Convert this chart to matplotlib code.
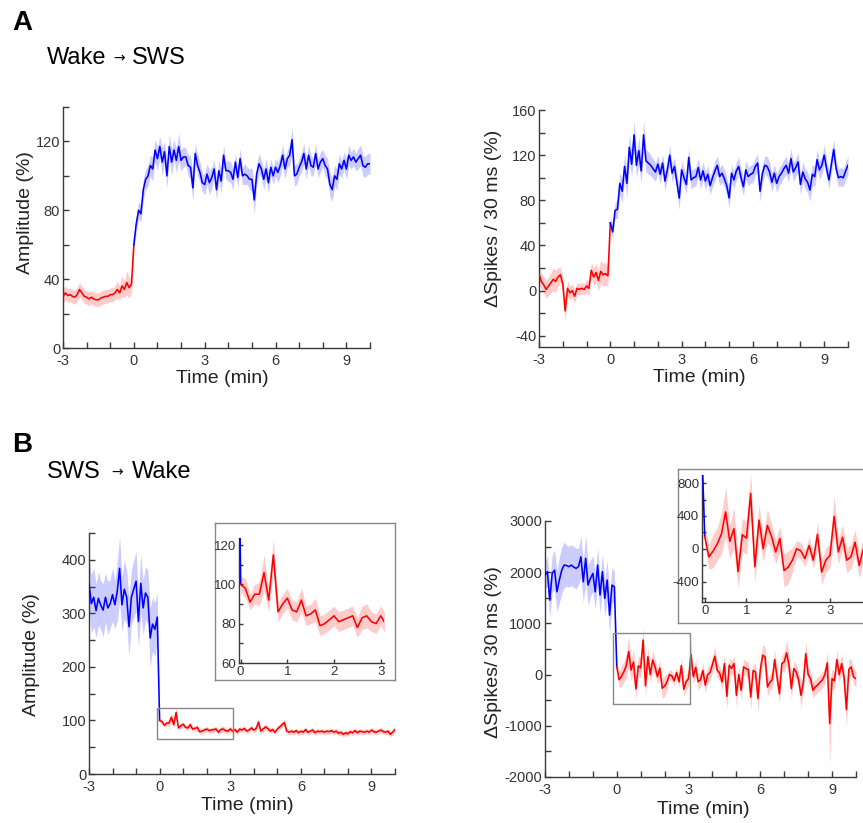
import matplotlib
matplotlib.use("Agg")
import matplotlib.pyplot as plt
import numpy as np
from matplotlib.patches import Rectangle

plt.rcParams["font.family"] = ["Liberation Sans", "DejaVu Sans"]
plt.rcParams["axes.unicode_minus"] = False

W, H = 863, 823

# time bins (min): pre-transition and post-transition, sharing t = 0
T_PRE = np.linspace(-3, 0, 31)
T_POST = np.linspace(0, 10, 101)

# ---- A: Wake -> SWS, amplitude (%) ----
AMP_A_WAKE = [30, 32, 30.5, 31, 30, 29.5, 31, 34, 32, 30,
              29.5, 28.5, 29.5, 28.5, 28, 28, 29, 29.5, 30, 30,
              31, 31, 32, 34, 32, 36, 34, 38, 35, 37,
              60]
SEM_AMP_A_WAKE = [4, 4, 4, 4, 4, 4, 4, 4, 4, 4,
                  4, 4, 4, 4, 4, 4, 4, 4, 4, 4,
                  4, 4, 4, 5, 4, 6, 5, 7, 6, 5,
                  6]
AMP_A_SWS = [60, 72, 80, 78, 92, 98, 100, 106, 104, 115,
             110, 117, 108, 114, 100, 117, 108, 115, 109, 117,
             109, 111, 111, 106, 105, 93, 113, 106, 102, 96,
             95, 101, 96, 99, 104, 92, 103, 97, 112, 103,
             103, 102, 98, 108, 99, 110, 100, 101, 100, 98,
             98, 86, 101, 107, 104, 98, 104, 96, 105, 100,
             105, 102, 106, 112, 104, 110, 112, 121, 100, 101,
             105, 108, 113, 104, 112, 106, 105, 113, 104, 108,
             110, 106, 104, 95, 92, 100, 98, 107, 104, 109,
             104, 112, 109, 111, 108, 110, 112, 106, 105, 107,
             107]
SEM_AMP_A_SWS = [3, 4, 5, 5, 6, 6, 6, 6, 7, 6,
                 7, 6, 8, 6, 7, 7, 8, 6, 7, 8,
                 6, 6, 5, 6, 7, 8, 6, 6, 6, 5,
                 6, 6, 7, 6, 5, 6, 6, 7, 6, 5,
                 6, 6, 6, 5, 6, 6, 5, 6, 5, 6,
                 7, 8, 6, 6, 5, 6, 6, 6, 5, 5,
                 5, 6, 6, 6, 6, 5, 6, 7, 6, 6,
                 5, 6, 6, 6, 6, 6, 5, 6, 5, 6,
                 5, 6, 6, 7, 7, 6, 6, 6, 5, 5,
                 6, 6, 5, 5, 5, 6, 6, 6, 6, 6,
                 6]

# ---- A: Wake -> SWS, delta spikes / 30 ms (%) ----
SPK_A_WAKE = [15, 8, 5, 1, 4, 7, 10, 8, 12, 14,
              6, -18, 2, -2, 0, -5, 2, 1, 2, 1,
              4, 2, 18, 12, 16, 9, 17, 14, 15, 13,
              60]
SEM_SPK_A_WAKE = [8, 7, 7, 8, 8, 9, 10, 10, 8, 7,
                  7, 10, 7, 6, 6, 6, 5, 5, 5, 5,
                  6, 6, 7, 8, 8, 9, 10, 10, 10, 9,
                  8]
SPK_A_SWS = [60, 52, 71, 72, 95, 88, 110, 95, 127, 112,
             138, 111, 124, 106, 138, 115, 113, 111, 108, 105,
             112, 103, 113, 97, 107, 120, 104, 110, 96, 82,
             107, 100, 94, 118, 98, 100, 101, 109, 98, 106,
             97, 103, 93, 100, 106, 111, 101, 104, 99, 93,
             82, 104, 98, 106, 110, 100, 92, 107, 101, 103,
             104, 110, 113, 88, 104, 111, 110, 105, 96, 104,
             95, 101, 104, 108, 111, 104, 117, 105, 109, 114,
             94, 105, 99, 96, 89, 103, 101, 116, 107, 111,
             120, 108, 98, 112, 125, 108, 100, 101, 100, 106,
             111]
SEM_SPK_A_SWS = [5, 6, 7, 8, 10, 10, 11, 12, 12, 11,
                 13, 11, 12, 11, 13, 10, 10, 9, 9, 8,
                 8, 8, 8, 9, 8, 9, 8, 8, 9, 10,
                 8, 8, 8, 9, 8, 8, 8, 8, 8, 8,
                 8, 8, 8, 8, 9, 8, 8, 8, 8, 8,
                 9, 8, 8, 8, 8, 8, 8, 8, 8, 8,
                 8, 8, 8, 9, 8, 8, 9, 9, 8, 8,
                 8, 8, 8, 8, 8, 8, 9, 8, 8, 8,
                 9, 9, 9, 9, 10, 9, 9, 9, 8, 8,
                 9, 8, 8, 8, 9, 8, 8, 8, 8, 8,
                 8]

# ---- B: SWS -> Wake, amplitude (%) ----
AMP_B_SWS = [355, 318, 330, 305, 328, 315, 306, 330, 310, 318,
             335, 316, 341, 384, 316, 345, 330, 275, 330, 345,
             360, 285, 356, 310, 338, 330, 254, 280, 270, 293,
             100]
SEM_AMP_B_SWS = [45, 55, 55, 50, 50, 45, 50, 45, 50, 45,
                 50, 45, 55, 60, 50, 55, 50, 55, 50, 55,
                 55, 50, 55, 50, 50, 50, 55, 50, 50, 45,
                 10]
AMP_B_WAKE = [100, 98, 91, 95, 95, 106, 92, 115, 86, 90,
              93, 87, 86, 92, 84, 85, 87, 79, 80, 82,
              84, 81, 82, 83, 84, 78, 83, 84, 81, 80,
              84, 80, 83, 78, 84, 82, 85, 80, 82, 86,
              82, 85, 97, 80, 84, 88, 85, 80, 83, 78,
              84, 88, 92, 96, 80, 78, 80, 78, 81, 77,
              80, 78, 83, 78, 80, 82, 77, 80, 79, 80,
              78, 80, 79, 81, 78, 80, 76, 78, 74, 77,
              75, 79, 77, 81, 77, 80, 79, 78, 80, 78,
              82, 79, 78, 80, 82, 79, 78, 80, 74, 78,
              83]
SEM_AMP_B_WAKE = [4, 5, 4, 5, 6, 9, 6, 8, 5, 5,
                  5, 5, 5, 6, 5, 5, 6, 5, 5, 5,
                  5, 5, 5, 5, 5, 5, 6, 6, 5, 5,
                  5, 5, 5, 5, 5, 5, 5, 5, 5, 5,
                  5, 5, 7, 5, 5, 6, 5, 5, 5, 5,
                  5, 5, 6, 7, 5, 5, 5, 5, 5, 5,
                  5, 5, 5, 5, 5, 5, 5, 5, 5, 5,
                  5, 5, 5, 5, 5, 5, 5, 5, 5, 5,
                  5, 5, 5, 5, 5, 5, 5, 5, 5, 5,
                  5, 5, 5, 5, 5, 5, 5, 5, 5, 5,
                  5]

# ---- B: SWS -> Wake, delta spikes / 30 ms (%) ----
SPK_B_SWS = [1944, 2009, 1455, 1976, 2040, 1618, 1846, 2040, 2140, 2130,
             2107, 2140, 2100, 2074, 2110, 2300, 1813, 2270, 1750, 1880,
             1976, 1618, 2140, 1553, 2009, 1487, 1846, 1161, 1748, 1716,
             150]
SEM_SPK_B_SWS = [250, 300, 350, 350, 400, 400, 450, 450, 450, 400,
                 400, 400, 400, 400, 350, 400, 400, 450, 400, 350,
                 350, 350, 350, 350, 350, 350, 400, 400, 350, 300,
                 100]
SPK_B_WAKE = [150, -100, -30, 60, 180, 450, 90, 245, -280, 170,
              130, 675, -220, 350, 0, 285, 150, -40, 125, -265,
              -225, -140, 0, -25, -120, 40, -140, 175, -285, -140,
              -80, 395, -40, 140, -140, -100, 80, -205, 0, 40,
              200, 358, 85, 30, -143, 215, -424, 183, 120, 215,
              -404, 0, -306, 150, 117, 100, -437, 80, 50, -469,
              100, 378, 346, -241, -150, -100, 293, -50, -372, 215,
              250, 424, 183, -274, 117, 50, -100, -404, -150, 411,
              0, -78, -306, -241, -200, -150, -100, 0, 228, -958,
              -78, -120, 293, 0, 215, -50, -685, 100, 150, -46,
              -80]
SEM_SPK_B_WAKE = [100, 150, 200, 200, 250, 300, 200, 250, 200, 200,
                  200, 250, 200, 200, 150, 200, 150, 150, 150, 200,
                  200, 150, 100, 100, 100, 100, 100, 150, 150, 150,
                  150, 250, 150, 150, 150, 150, 150, 150, 150, 150,
                  150, 200, 150, 150, 150, 200, 250, 150, 150, 150,
                  250, 150, 200, 150, 150, 150, 250, 150, 150, 250,
                  200, 200, 200, 200, 150, 150, 200, 150, 200, 150,
                  200, 250, 200, 200, 150, 150, 150, 250, 150, 250,
                  150, 150, 150, 150, 150, 150, 150, 150, 200, 800,
                  200, 150, 200, 150, 200, 150, 350, 200, 150, 150,
                  150]

RED, RED_BAND = "#ff0000", "#ffcccc"
BLUE, BLUE_BAND = "#0000ff", "#ccccff"
AX_COLOR = "#3a3a3a"
TXT = "#333333"


def px_rect(left, top, right, bottom):
    return [left / W, 1 - bottom / H, (right - left) / W, (bottom - top) / H]


def draw_traces(ax, segments):
    for t, y, sem, _, band in segments:
        y = np.asarray(y, float)
        sem = np.asarray(sem, float)
        ax.fill_between(t, y - sem, y + sem, color=band, lw=0, zorder=1)
    for t, y, _, color, _ in segments:
        ax.plot(t, y, color=color, lw=1.15, zorder=3)


def style_axes(ax, xticks, xlabel_every, ylim, ystep, ylabel_every, labelsize=10.5, ticklen=4):
    for side in ("top", "right"):
        ax.spines[side].set_visible(False)
    for side in ("left", "bottom"):
        ax.spines[side].set_color(AX_COLOR)
        ax.spines[side].set_linewidth(1)
    ax.set_xticks(xticks)
    ax.set_xticklabels([str(int(v)) if v % xlabel_every == 0 else "" for v in xticks])
    ax.set_ylim(*ylim)
    first = np.ceil(ylim[0] / ystep) * ystep
    yt = np.arange(first, ylim[1] + 1e-9, ystep)
    ax.set_yticks(yt)
    ax.set_yticklabels([str(int(v)) if v % ylabel_every == 0 else "" for v in yt])
    ax.tick_params(direction="in", length=ticklen, width=1, color=AX_COLOR,
                   labelcolor=TXT, labelsize=labelsize)
    ax.tick_params(axis="x", pad=4)
    ax.tick_params(axis="y", pad=2)
    ax.set_facecolor("none")


def main_panel(rect, segments, ylim, ystep, ylabel_every, ylabel, ylab_xy, xlab_xy):
    ax = fig.add_axes(px_rect(*rect))
    draw_traces(ax, segments)
    ax.set_xlim(-3, 10)
    style_axes(ax, np.arange(-3, 11), 3, ylim, ystep, ylabel_every)
    ax.set_ylabel(ylabel, fontsize=14, color="#222222")
    ax.yaxis.set_label_coords(*ylab_xy)
    ax.set_xlabel("Time (min)", fontsize=14, color="#222222")
    ax.xaxis.set_label_coords(*xlab_xy)
    return ax


def inset_frame(rect):
    fr = fig.add_axes(px_rect(*rect))
    fr.set_xticks([])
    fr.set_yticks([])
    fr.set_facecolor("white")
    for s in fr.spines.values():
        s.set_color("#888888")
        s.set_linewidth(1)
    return fr


def title(x_left, y, first, second, arrow_x, second_x):
    fig.text(x_left / W, 1 - y / H, first, fontsize=17, va="center", ha="left")
    fig.text(arrow_x / W, 1 - y / H, "\u2192", fontsize=10, va="center", ha="center",
             family=["DejaVu Sans"])
    fig.text(second_x / W, 1 - y / H, second, fontsize=17, va="center", ha="left")


fig = plt.figure(figsize=(W / 100, H / 100), dpi=100)

# panel A
main_panel((63, 107, 370, 348),
           [(T_PRE, AMP_A_WAKE, SEM_AMP_A_WAKE, RED, RED_BAND),
            (T_POST, AMP_A_SWS, SEM_AMP_A_SWS, BLUE, BLUE_BAND)],
           (0, 140), 20, 40, "Amplitude (%)", (-0.095, 0.56), (0.52, -0.09))
main_panel((539, 110, 848, 347),
           [(T_PRE, SPK_A_WAKE, SEM_SPK_A_WAKE, RED, RED_BAND),
            (T_POST, SPK_A_SWS, SEM_SPK_A_SWS, BLUE, BLUE_BAND)],
           (-50, 160), 20, 40, "\u0394Spikes / 30 ms (%)", (-0.12, 0.544), (0.52, -0.093))

# panel B
seg_b_amp = [(T_PRE, AMP_B_SWS, SEM_AMP_B_SWS, BLUE, BLUE_BAND),
             (T_POST, AMP_B_WAKE, SEM_AMP_B_WAKE, RED, RED_BAND)]
seg_b_spk = [(T_PRE, SPK_B_SWS, SEM_SPK_B_SWS, BLUE, BLUE_BAND),
             (T_POST, SPK_B_WAKE, SEM_SPK_B_WAKE, RED, RED_BAND)]

ax_bl = main_panel((89, 533, 395, 774), seg_b_amp, (0, 450), 50, 100,
                   "Amplitude (%)", (-0.16, 0.494), (0.518, -0.095))
ax_bl.add_patch(Rectangle((-0.1, 65), 3.2, 59, fill=False, ec="#888888", lw=1, zorder=4))

ax_br = main_panel((545, 521, 856, 777), seg_b_spk, (-2000, 3000), 500, 1000,
                   "\u0394Spikes/ 30 ms (%)", (-0.138, 0.488), (0.51, -0.094))
ax_br.add_patch(Rectangle((-0.15, -580), 3.2, 1390, fill=False, ec="#888888", lw=1, zorder=4))

# insets
inset_frame((215, 523, 395, 680))
ins1 = fig.add_axes(px_rect(239, 538, 384, 663))
draw_traces(ins1, seg_b_amp)
ins1.set_xlim(-0.036, 3.07)
style_axes(ins1, np.arange(0, 4), 1, (60, 123.6), 10, 20, labelsize=9.5, ticklen=3)
ins1.tick_params(axis="x", pad=2)

inset_frame((678, 469, 905, 623))
ins2 = fig.add_axes(px_rect(702, 475, 905, 602))
draw_traces(ins2, seg_b_spk)
ins2.set_xlim(-0.065, (905 - 705) / 41.7)
style_axes(ins2, np.arange(0, 4), 1, (-650, 900), 200, 400, labelsize=9.5, ticklen=3)
ins2.tick_params(axis="x", pad=2)

# panel letters and titles
fig.text(12 / W, 1 - 23 / H, "A", fontsize=20, fontweight="bold", va="center", ha="left")
title(47, 58, "Wake", "SWS", 119, 132)
fig.text(12 / W, 1 - 445 / H, "B", fontsize=20, fontweight="bold", va="center", ha="left")
title(47, 472, "SWS", "Wake", 117, 132)

fig.savefig("out.png", dpi=100)
